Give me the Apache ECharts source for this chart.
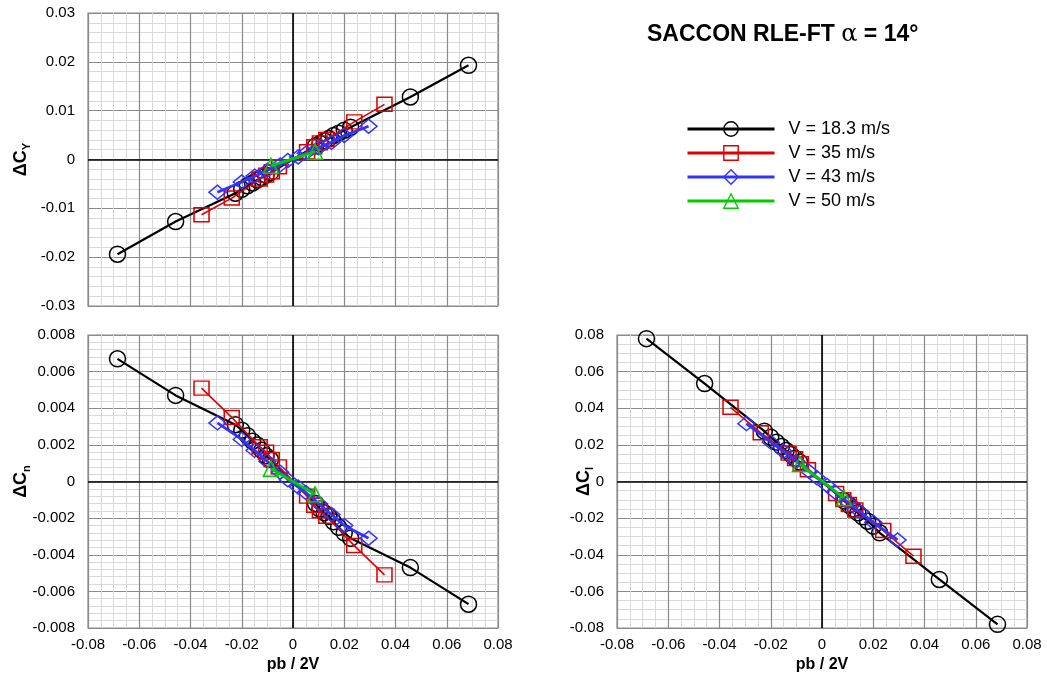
<!doctype html>
<html>
<head>
<meta charset="utf-8">
<title>SACCON RLE-FT</title>
<script src="https://cdn.jsdelivr.net/npm/echarts@6/dist/echarts.min.js"></script>
<style>
  html, body { margin: 0; padding: 0; background: #fff; }
  #main { width: 1047px; height: 680px; }
</style>
</head>
<body>
<div id="main"></div>
<script>
// pb/2V values of each run
var pbBlack = [-0.0685, -0.0458, -0.0225, -0.0200, -0.0178, -0.0158, -0.0140, -0.0122, -0.0105, -0.0088,
               0.0088, 0.0105, 0.0122, 0.0140, 0.0158, 0.0178, 0.0200, 0.0225, 0.0458, 0.0685];
var pbRed = [-0.0357, -0.0239, -0.0130, -0.0105, -0.0083, -0.0055, 0.0055, 0.0083, 0.0105, 0.0130, 0.0239, 0.0357];
var pbBlue = [-0.0295, -0.0200, -0.0150, -0.0100, -0.0050, -0.0020, 0.0020, 0.0050, 0.0100, 0.0150, 0.0200, 0.0295];
var pbGreen = [-0.0086, 0.0086];

// delta CY
var cyBlack = [-0.0194, -0.0127, -0.0069, -0.0061, -0.0054, -0.0048, -0.0042, -0.0037, -0.0032, -0.0027,
               0.0028, 0.0033, 0.0038, 0.0043, 0.0049, 0.0054, 0.0060, 0.0066, 0.0128, 0.0193];
var cyRed = [-0.0113, -0.0079, -0.0040, -0.0032, -0.0025, -0.0015, 0.0016, 0.0026, 0.0034, 0.0041, 0.0077, 0.0113];
var cyBlue = [-0.0067, -0.0046, -0.0034, -0.0022, -0.0011, -0.0002, 0.0005, 0.0013, 0.0024, 0.0035, 0.0049, 0.0068];
var cyGreen = [-0.0013, 0.0016];

// delta Cn
var cnBlack = [0.0067, 0.0047, 0.0031, 0.0028, 0.0025, 0.0022, 0.0020, 0.0017, 0.0014, 0.0012,
               -0.0012, -0.0015, -0.0017, -0.0019, -0.0022, -0.0025, -0.0028, -0.0031, -0.0047, -0.0067];
var cnRed = [0.0051, 0.0035, 0.0019, 0.0016, 0.0012, 0.0008, -0.0008, -0.0013, -0.0016, -0.0019, -0.0035, -0.0051];
var cnBlue = [0.0032, 0.0023, 0.0017, 0.0011, 0.0005, 0.0001, -0.0003, -0.0006, -0.0012, -0.0018, -0.0024, -0.0031];
var cnGreen = [0.0007, -0.0007];

// delta Cl
var clBlack = [0.0780, 0.0535, 0.0275, 0.0242, 0.0215, 0.0191, 0.0169, 0.0148, 0.0127, 0.0107,
               -0.0107, -0.0128, -0.0150, -0.0171, -0.0193, -0.0217, -0.0244, -0.0280, -0.0535, -0.0780];
var clRed = [0.0405, 0.0266, 0.0155, 0.0125, 0.0097, 0.0064, -0.0066, -0.0099, -0.0126, -0.0156, -0.0268, -0.0408];
var clBlue = [0.0316, 0.0215, 0.0165, 0.0110, 0.0055, 0.0020, -0.0022, -0.0057, -0.0112, -0.0167, -0.0222, -0.0319];
var clGreen = [0.0095, -0.0090];

var names = ['V = 18.3 m/s', 'V = 35 m/s', 'V = 43 m/s', 'V = 50 m/s'];
var colors = ['#000000', '#e00000', '#3333ff', '#00cc00'];
var symbols = ['circle', 'rect', 'diamond', 'triangle'];
var symbolSizes = [16, [15, 14], [17, 14], 15];
var lineWidths = [2.2, 1.6, 2.8, 2.8];

function zip(xs, ys) {
    var d = [];
    for (var i = 0; i < xs.length; i++) d.push([xs[i], ys[i]]);
    return d;
}

var pbs = [pbBlack, pbRed, pbBlue, pbGreen];
var sets = [
    [cyBlack, cyRed, cyBlue, cyGreen],
    [cnBlack, cnRed, cnBlue, cnGreen],
    [clBlack, clRed, clBlue, clGreen]
];

var series = [];
sets.forEach(function (ys, g) {
    ys.forEach(function (vals, k) {
        var s = {
            name: names[k],
            type: 'line',
            xAxisIndex: g,
            yAxisIndex: g,
            data: zip(pbs[k], vals),
            symbol: symbols[k],
            symbolSize: symbolSizes[k],
            showAllSymbol: true,
            color: colors[k],
            lineStyle: { color: colors[k], width: lineWidths[k] },
            itemStyle: { color: 'rgba(255,255,255,0)', borderColor: colors[k], borderWidth: 1.5 },
            emphasis: { disabled: true },
            z: 3 + k
        };
        if (k === 0) {
            // zero lines
            s.markLine = {
                silent: true,
                symbol: 'none',
                label: { show: false },
                lineStyle: { color: '#000', width: 1.6, type: 'solid' },
                data: [{ xAxis: 0 }, { yAxis: 0 }],
                z: 2
            };
        }
        series.push(s);
    });
});

var font = 'Liberation Sans, Arial, sans-serif';

function xAxis(g, showLabel) {
    return {
        type: 'value', gridIndex: g, min: -0.08, max: 0.08, interval: 0.02,
        axisLine: { show: false }, axisTick: { show: false },
        axisLabel: { show: showLabel, color: '#000', fontSize: 15, fontFamily: font, margin: 9 },
        splitLine: { show: true, lineStyle: { color: '#8a8a8a', width: 1.2 } },
        minorTick: { show: true, splitNumber: 4, length: 0 },
        minorSplitLine: { show: true, lineStyle: { color: '#d9d9d9', width: 1 } },
        name: showLabel ? 'pb / 2V' : '',
        nameLocation: 'middle', nameGap: 29, nameMoveOverlap: false,
        nameTextStyle: { color: '#000', fontSize: 16, fontWeight: 'bold', fontFamily: font }
    };
}

function yAxis(g, lim, step, minorN, sub, gap) {
    return {
        type: 'value', gridIndex: g, min: -lim, max: lim, interval: step,
        axisLine: { show: false }, axisTick: { show: false },
        axisLabel: { color: '#000', fontSize: 15, fontFamily: font, margin: 13 },
        splitLine: { show: true, lineStyle: { color: '#8a8a8a', width: 1.2 } },
        minorTick: { show: true, splitNumber: minorN, length: 0 },
        minorSplitLine: { show: true, lineStyle: { color: '#d9d9d9', width: 1 } },
        name: '{d|\u0394C}{s|' + sub + '}',
        nameLocation: 'middle', nameRotate: 90, nameGap: gap, nameMoveOverlap: false,
        nameTextStyle: {
            color: '#000', fontFamily: font,
            rich: {
                d: { fontSize: 18, fontWeight: 'bold', fontFamily: font, color: '#000', lineHeight: 22 },
                s: { fontSize: 11, fontWeight: 'bold', fontFamily: font, color: '#000', verticalAlign: 'bottom', lineHeight: 22, padding: [8, 0, 0, 0] }
            }
        }
    };
}

var chart = echarts.init(document.getElementById('main'), null, { renderer: 'canvas' });
chart.setOption({
    backgroundColor: '#fff',
    animation: false,
    title: {
        text: '{b|SACCON RLE-FT }{a|\u03b1}{b| = 14\u00b0}',
        left: 642, top: 18,
        textStyle: {
            rich: {
                b: { fontSize: 23, fontWeight: 'bold', fontFamily: font, color: '#000' },
                a: { fontSize: 24, fontWeight: 'normal', fontFamily: 'DejaVu Serif, serif', color: '#000' }
            }
        }
    },
    legend: {
        orient: 'vertical',
        left: 681, top: 115,
        itemWidth: 87, itemHeight: 18, itemGap: 6,
        data: names,
        lineStyle: { width: 3 },
        itemStyle: { borderWidth: 1.4 },
        textStyle: { color: '#000', fontSize: 18, fontFamily: font, padding: [0, 0, 0, 9] },
        selectedMode: false
    },
    grid: [
        { left: 88, top: 13, width: 410, height: 293, show: true, borderColor: '#8a8a8a', borderWidth: 1.2 },
        { left: 88, top: 335, width: 410, height: 293, show: true, borderColor: '#8a8a8a', borderWidth: 1.2 },
        { left: 617, top: 335, width: 410, height: 293, show: true, borderColor: '#8a8a8a', borderWidth: 1.2 }
    ],
    xAxis: [xAxis(0, false), xAxis(1, true), xAxis(2, true)],
    yAxis: [
        yAxis(0, 0.03, 0.01, 5, 'Y', 56),
        yAxis(1, 0.008, 0.002, 5, 'n', 56),
        yAxis(2, 0.08, 0.02, 4, 'l', 22)
    ],
    series: series
});
</script>
</body>
</html>
